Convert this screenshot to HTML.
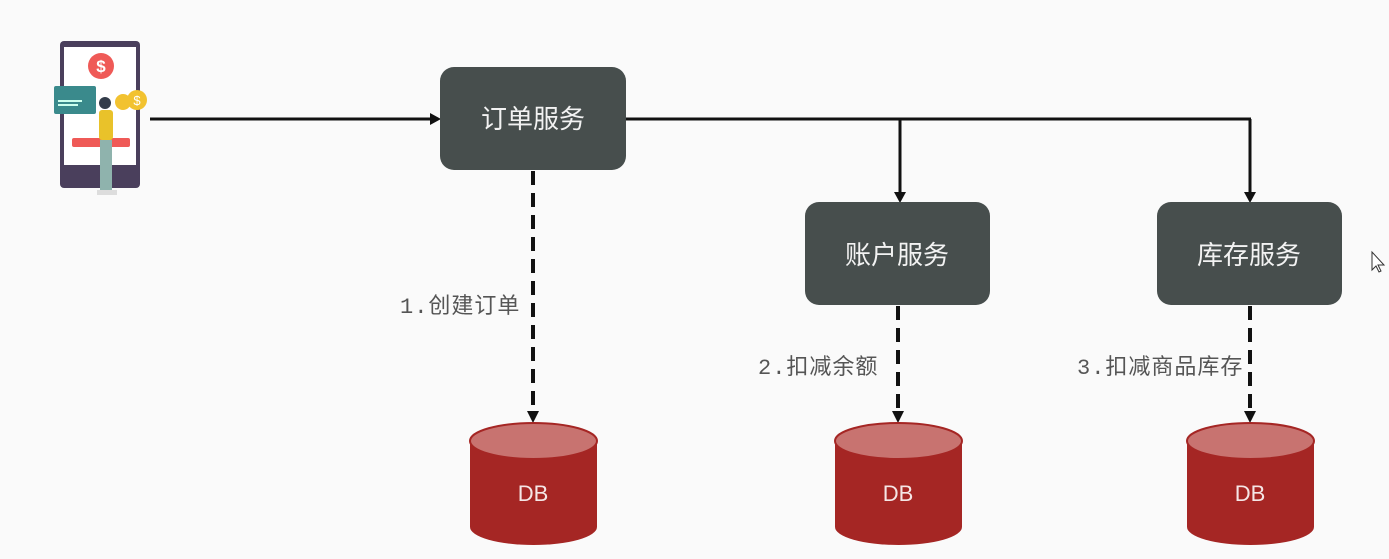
<!DOCTYPE html>
<html><head><meta charset="utf-8"><style>
html,body{margin:0;padding:0;background:#fafafa;}
svg{display:block;}
</style></head><body>
<svg width="1389" height="559" viewBox="0 0 1389 559" xmlns="http://www.w3.org/2000/svg">
<rect width="1389" height="559" fill="#fafafa"/>
<!-- phone illustration -->
<rect x="60" y="41" width="80" height="147" rx="4" fill="#4a3f5c"/>
<rect x="64" y="47" width="72" height="118" fill="#ffffff"/>
<circle cx="101" cy="66" r="13" fill="#ef5a57"/>
<text x="101" y="72" font-family="Liberation Sans, sans-serif" font-size="17" font-weight="bold" fill="#fff" text-anchor="middle">$</text>
<rect x="54" y="86" width="42" height="28" rx="2" fill="#3a8a8c"/>
<rect x="58" y="100" width="24" height="2" fill="#cfe"/>
<rect x="58" y="104" width="20" height="2" fill="#cfe"/>
<circle cx="123" cy="102" r="8" fill="#f2c230"/>
<circle cx="137" cy="100" r="10" fill="#f2c230"/>
<text x="137" y="105" font-family="Liberation Sans, sans-serif" font-size="13" fill="#fff" text-anchor="middle">$</text>
<rect x="72" y="138" width="58" height="9" rx="2" fill="#ef5a57"/>
<circle cx="105" cy="103" r="6" fill="#333c4a"/>
<rect x="99" y="110" width="14" height="30" rx="3" fill="#e9c22a"/>
<rect x="100" y="140" width="12" height="50" fill="#8fb3ad"/>
<rect x="97" y="190" width="20" height="5" fill="#ddd"/>
<!-- arrows solid -->
<g stroke="#111" stroke-width="3" fill="none">
<line x1="150" y1="119" x2="430" y2="119"/>
<line x1="626" y1="119" x2="1251" y2="119"/>
<line x1="900" y1="119" x2="900" y2="193"/>
<line x1="1250" y1="119" x2="1250" y2="193"/>
</g>
<g fill="#111">
<polygon points="430,113 441,119 430,125"/>
<polygon points="894,192 900,203 906,192"/>
<polygon points="1244,192 1250,203 1256,192"/>
</g>
<!-- dashed -->
<g stroke="#111" stroke-width="4" stroke-dasharray="14,8" fill="none">
<line x1="533" y1="171" x2="533" y2="412"/>
<line x1="898" y1="306" x2="898" y2="412"/>
<line x1="1250" y1="306" x2="1250" y2="412"/>
</g>
<g fill="#111">
<polygon points="527,411 533,423 539,411"/>
<polygon points="892,411 898,423 904,411"/>
<polygon points="1244,411 1250,423 1256,411"/>
</g>
<!-- boxes -->
<g fill="#474e4d">
<rect x="440" y="67" width="186" height="103" rx="14"/>
<rect x="805" y="202" width="185" height="103" rx="14"/>
<rect x="1157" y="202" width="185" height="103" rx="14"/>
</g>
<g font-family="Liberation Sans, Noto Sans CJK SC, sans-serif" font-size="26" fill="#f2f2f2" text-anchor="middle">
<text x="533" y="128">订单服务</text>
<text x="897" y="264">账户服务</text>
<text x="1249" y="264">库存服务</text>
</g>
<!-- labels -->
<g font-family="Liberation Mono, Noto Sans CJK SC, sans-serif" font-size="22" fill="#555" letter-spacing="1">
<text x="400" y="313">1.创建订单</text>
<text x="758" y="374">2.扣减余额</text>
<text x="1077" y="374">3.扣减商品库存</text>
</g>
<!-- DBs -->
<g>
<path d="M470,441 L470,527 A63.5,18 0 0 0 597,527 L597,441 Z" fill="#a52624"/>
<ellipse cx="533.5" cy="441" rx="63.5" ry="18" fill="#c87370" stroke="#a52624" stroke-width="2"/>
<path d="M835,441 L835,527 A63.5,18 0 0 0 962,527 L962,441 Z" fill="#a52624"/>
<ellipse cx="898.5" cy="441" rx="63.5" ry="18" fill="#c87370" stroke="#a52624" stroke-width="2"/>
<path d="M1187,441 L1187,527 A63.5,18 0 0 0 1314,527 L1314,441 Z" fill="#a52624"/>
<ellipse cx="1250.5" cy="441" rx="63.5" ry="18" fill="#c87370" stroke="#a52624" stroke-width="2"/>
</g>
<g font-family="Liberation Sans, sans-serif" font-size="22" fill="#f5e6e6" text-anchor="middle">
<text x="533" y="501">DB</text>
<text x="898" y="501">DB</text>
<text x="1250" y="501">DB</text>
</g>
<!-- cursor -->
<path d="M1372,252 L1372,270 L1376,266 L1379,272 L1381,271 L1378,265 L1384,265 Z" fill="#fff" stroke="#333" stroke-width="1"/>
</svg>
</body></html>
